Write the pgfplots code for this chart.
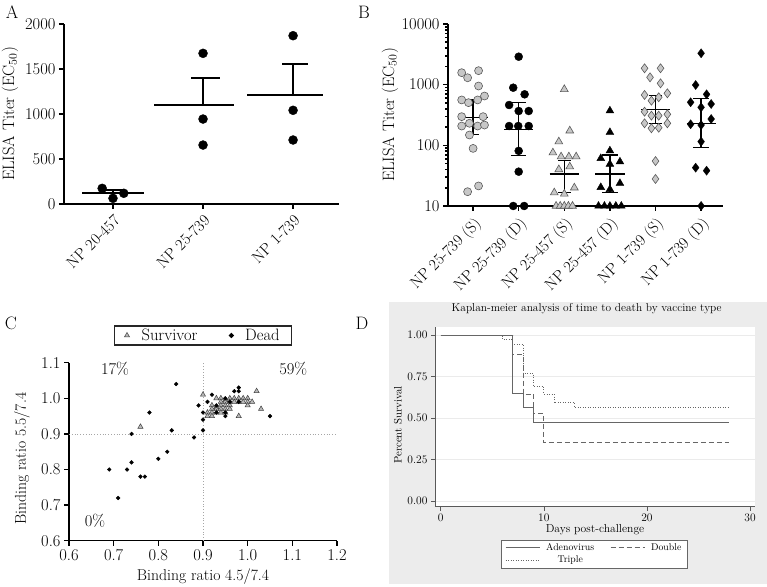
\documentclass[border=0pt]{standalone}
\usepackage{pgfplots}
\pgfplotsset{compat=1.18}
\definecolor{ltgray}{gray}{0.78}
\definecolor{mkedge}{gray}{0.35}
\definecolor{kmline}{gray}{0.4}
\definecolor{panelbg}{gray}{0.925}

\pgfplotsset{
  prism/.style={
    scale only axis,
    axis x line*=bottom, axis y line*=left,
    axis line style={line width=1.6pt},
    tick style={black, line width=1.6pt},
    tick align=outside,
    major tick length=5pt, minor tick length=3pt,
    tick label style={font=\fontsize{16.5}{18}\selectfont},
    label style={font=\fontsize{16.5}{18}\selectfont},
    /pgf/number format/assume math mode=true,
    /pgf/number format/1000 sep={},
    clip=false,
    unbounded coords=jump,
  },
  catlabels/.style={
    xticklabel style={rotate=45, anchor=north east, font=\fontsize{16}{18}\selectfont},
  },
}

\begin{document}
\begin{tikzpicture}
\path[use as bounding box] (0pt,0pt) rectangle (767pt,586pt);
\fill[panelbg] (389pt,2pt) rectangle (767pt,284pt);

\node[font=\fontsize{18}{20}\selectfont] at (12pt,574pt) {A};
\node[font=\fontsize{18}{20}\selectfont] at (364pt,574pt) {B};
\node[font=\fontsize{18}{20}\selectfont] at (11pt,263pt) {C};
\node[font=\fontsize{18}{20}\selectfont] at (362pt,263pt) {D};

% ---------- A ----------
\begin{axis}[prism, catlabels,
    at={(64pt,382pt)}, anchor=south west, width=275pt, height=180pt,
    xmin=-0.544, xmax=2.51, ymin=0, ymax=2000,
    xtick={0,1,2}, xticklabels={NP 20-457, NP 25-739, NP 1-739},
    ytick={0,500,1000,1500,2000},
    ylabel={ELISA Titer (EC$_{50}$)},
    ylabel style={at={(axis description cs:-0.196,0.5)}, anchor=center},
  ]
  \addplot[only marks, mark=*, mark size=4.5pt, black] coordinates {
    (-0.12,174) (0,63) (0.12,119)
    (1,1674) (1,944) (1,655)
    (2,1870) (2,1041) (2,711)
  };
  \addplot[black, line width=2pt] coordinates {
    (-0.34,126) (0.34,126) (0,nan) (0,126) (0,160) (0,nan) (-0.12,160) (0.12,160) (0,nan)
    (0.46,1096) (1.34,1096) (0,nan) (1,1096) (1,1403) (0,nan) (0.87,1403) (1.19,1403) (0,nan)
    (1.49,1211) (2.33,1211) (0,nan) (2,1211) (2,1552) (0,nan) (1.88,1552) (2.17,1552)
  };
\end{axis}

% ---------- B ----------
\begin{axis}[prism, catlabels,
    at={(448pt,380pt)}, anchor=south west, width=275pt, height=182pt,
    ymode=log, ymin=10, ymax=10000, log ticks with fixed point,
    xmin=-0.55, xmax=5.48,
    xtick={0,1,2,3,4,5},
    xticklabels={NP 25-739 (S), NP 25-739 (D), NP 25-457 (S), NP 25-457 (D), NP 1-739 (S), NP 1-739 (D)},
    ytick={10,100,1000,10000},
    ylabel={ELISA Titer (EC$_{50}$)},
    ylabel style={at={(axis description cs:-0.211,0.5)}, anchor=center},
  ]
  % NP 25-739 (S)
  \addplot[only marks, mark=*, mark size=4pt, mark options={fill=ltgray, draw=mkedge, line width=0.6pt}] coordinates {
    (-0.25,1575) (-0.12,1300) (0.12,1700) (0.12,950) (0.25,650) (-0.25,560)
    (-0.1,505) (0.1,560) (-0.25,297) (0.22,297) (-0.25,208) (-0.08,231)
    (0.1,208) (0.25,216) (-0.08,148) (0,89) (-0.12,17.2) (0.12,21.4)
  };
  % NP 25-739 (D)
  \addplot[only marks, mark=*, mark size=4pt, black] coordinates {
    (1,2890) (0.88,891) (1.13,693) (0.79,462) (1,368) (1.22,368) (0.79,208)
    (0.99,208) (1.22,208) (1,81) (1,36.8) (0.88,10) (1.12,10)
  };
  % NP 25-457 (S)
  \addplot[only marks, mark=triangle*, mark size=4.5pt, mark options={fill=ltgray, draw=mkedge, line width=0.6pt}] coordinates {
    (2,838) (2.12,174) (1.88,115) (1.75,75.6) (1.93,65) (2.1,65) (2.26,65)
    (1.88,40) (2.12,44.5) (1.78,16.6) (2,15.8) (2.22,20)
    (1.82,10) (1.91,10) (2,10) (2.09,10) (2.18,10)
  };
  % NP 25-457 (D)
  \addplot[only marks, mark=triangle*, mark size=4.5pt, black] coordinates {
    (3,372) (3,164) (3,81.6) (2.8,61) (3,49) (3.22,53.7) (3.22,23.7) (2.8,20.3)
    (3,18.8) (2.75,10) (2.88,10) (3,10) (3.13,10) (3.25,10)
  };
  % NP 1-739 (S)
  \addplot[only marks, mark=diamond*, mark size=4.5pt, mark options={fill=ltgray, draw=mkedge, line width=0.6pt}] coordinates {
    (3.76,1862) (4.11,1862) (3.88,1321) (4.11,1051) (3.76,676) (4.26,721)
    (3.91,544) (4.07,620) (3.76,358) (3.91,308) (4.07,308) (4.26,325)
    (3.76,231) (3.91,191) (4.07,195) (4.26,231) (4,55) (4,27.9)
  };
  % NP 1-739 (D)
  \addplot[only marks, mark=diamond*, mark size=4.5pt, black] coordinates {
    (5,3290) (4.88,986) (5.12,693) (4.77,512) (5,423) (5.22,480) (5.22,272)
    (4.77,222) (5,216) (5,115) (4.88,42.8) (5.12,38.2) (5,10)
  };
  % mean and SD
  \addplot[black, line width=1.3pt] coordinates {
    (-0.32,290) (0.32,290) (0,nan) (0,152) (0,560) (0,nan) (-0.14,152) (0.14,152) (0,nan) (-0.14,560) (0.14,560) (0,nan)
    (0.68,184) (1.32,184) (0,nan) (1,67.5) (1,505) (0,nan) (0.83,67.5) (1.17,67.5) (0,nan) (0.83,505) (1.17,505) (0,nan)
    (1.68,33.6) (2.32,33.6) (0,nan) (2,16.6) (2,55.8) (0,nan) (1.86,16.6) (2.14,16.6) (0,nan) (1.86,55.8) (2.14,55.8) (0,nan)
    (2.68,33.6) (3.32,33.6) (0,nan) (3,16.6) (3,69) (0,nan) (2.83,16.6) (3.17,16.6) (0,nan) (2.83,69) (3.17,69) (0,nan)
    (3.68,393) (4.32,393) (0,nan) (4,228) (4,665) (0,nan) (3.86,228) (4.14,228) (0,nan) (3.86,665) (4.14,665) (0,nan)
    (4.68,231) (5.32,231) (0,nan) (5,92.7) (5,596) (0,nan) (4.83,92.7) (5.17,92.7) (0,nan) (4.83,596) (5.17,596)
  };
\end{axis}

% ---------- C ----------
\begin{axis}[prism,
    at={(69pt,45.3pt)}, anchor=south west, width=268pt, height=178pt,
    axis line style={line width=1.3pt}, tick style={line width=1.3pt},
    xmin=0.6, xmax=1.2, ymin=0.6, ymax=1.1,
    xtick={0.6,0.7,0.8,0.9,1.0,1.1,1.2},
    ytick={0.6,0.7,0.8,0.9,1.0,1.1},
    xticklabel style={/pgf/number format/.cd, fixed, fixed zerofill, precision=1},
    yticklabel style={/pgf/number format/.cd, fixed, fixed zerofill, precision=1},
    label style={font=\fontsize{15.7}{18}\selectfont},
    xlabel={Binding ratio 4.5/7.4},
    ylabel={Binding ratio 5.5/7.4},
    xlabel style={at={(axis description cs:0.5,-0.202)}, anchor=center},
    ylabel style={at={(axis description cs:-0.176,0.46)}, anchor=center},
    legend columns=2,
    legend style={at={(axis description cs:0.5,1.153)}, anchor=center,
      draw=black!85, line width=1.2pt, font=\fontsize{16.5}{19}\selectfont,
      /tikz/every odd column/.append style={column sep=10pt},
      /tikz/every even column/.append style={column sep=30pt},
      inner xsep=10pt, inner ysep=1pt},
  ]
  \addplot[forget plot, gray!70, dotted, line width=0.8pt] coordinates {(0.9,0.6) (0.9,1.1)};
  \addplot[forget plot, gray!70, dotted, line width=0.8pt] coordinates {(0.6,0.9) (1.2,0.9)};
  \addplot[only marks, mark=triangle*, mark size=3pt, mark options={fill=gray!55, draw=black!75, line width=0.5pt}] coordinates {
    (0.76,0.92) (0.90,1.01) (0.98,0.95) (1.02,1.02) (1.03,0.97)
    (0.93,1.00) (0.94,1.00) (0.95,0.995) (0.96,1.00) (0.97,1.00) (0.98,1.00) (0.99,1.00) (1.00,1.00)
    (0.94,0.99) (0.95,0.99) (0.96,0.99) (0.97,0.99) (0.98,0.99) (0.99,0.99) (1.00,0.99) (1.01,0.99)
    (0.92,0.98) (0.93,0.975) (0.94,0.98) (0.95,0.98) (0.96,0.98) (1.00,0.98)
    (0.92,0.97) (0.93,0.97) (0.94,0.97) (0.95,0.97) (0.96,0.97)
    (0.91,0.96) (0.92,0.96) (0.93,0.96) (0.94,0.96) (0.95,0.96)
    (0.91,0.95) (0.92,0.95)
  };
  \addplot[only marks, mark=*, mark size=1.9pt, black] coordinates {
    (0.69,0.80) (0.71,0.72) (0.73,0.80) (0.74,0.90) (0.74,0.82) (0.76,0.78) (0.77,0.78)
    (0.78,0.96) (0.80,0.83) (0.82,0.85) (0.83,0.91) (0.84,1.04) (0.88,0.89) (0.89,0.98)
    (0.90,0.96) (0.90,0.94) (0.90,0.91) (0.91,0.99) (0.92,1.01) (0.93,0.98) (0.95,1.00)
    (0.95,0.95) (0.95,0.96) (0.96,0.99) (0.97,1.02) (0.98,1.03) (0.98,1.02) (0.93,0.96)
    (0.98,0.99) (1.05,0.95)
  };
  \legend{Survivor, Dead}
  \node[font=\fontsize{16.5}{18}\selectfont] at (axis cs:0.703,1.084) {17\%};
  \node[font=\fontsize{16.5}{18}\selectfont] at (axis cs:1.102,1.084) {59\%};
  \node[font=\fontsize{16.5}{18}\selectfont] at (axis cs:0.658,0.656) {0\%};
\end{axis}

% ---------- D ----------
\begin{axis}[
    scale only axis,
    at={(435pt,79.3pt)}, anchor=south west, width=320pt, height=180pt,
    axis x line*=bottom, axis y line*=left,
    axis line style={black!65, line width=0.6pt},
    tick style={black!65, line width=0.6pt},
    tick align=outside, major tick length=4pt,
    axis background/.style={fill=white},
    xmin=-0.55, xmax=30.48, ymin=-0.034, ymax=1.05,
    xtick={0,10,20,30}, ytick={0,0.25,0.5,0.75,1},
    yticklabel style={/pgf/number format/.cd, fixed, fixed zerofill, precision=2},
    /pgf/number format/assume math mode=true,
    tick label style={font=\fontsize{11.5}{13}\selectfont},
    ymajorgrids, grid style={black!8, line width=0.6pt},
    title={Kaplan-meier analysis of time to death by vaccine type},
    title style={at={(axis description cs:0.474,1.065)}, anchor=center, font=\fontsize{11.4}{13}\selectfont},
    xlabel={Days post-challenge},
    ylabel={Percent Survival},
    xlabel style={at={(axis description cs:0.5,-0.13)}, anchor=center, font=\fontsize{11.6}{13}\selectfont},
    ylabel style={at={(axis description cs:-0.116,0.454)}, anchor=center, font=\fontsize{10.8}{12}\selectfont},
    legend columns=2,
    legend image code/.code={\draw[#1] (0pt,0pt) -- (34pt,0pt);},
    legend style={at={(axis description cs:0.498,-0.263)}, anchor=center,
      draw=black!60, fill=white, font=\fontsize{9.8}{12}\selectfont,
      inner ysep=1.5pt, inner xsep=4pt,
      /tikz/every odd column/.append style={column sep=4pt},
      /tikz/every even column/.append style={column sep=14pt}},
  ]
  \addplot[const plot, kmline, line width=0.9pt] coordinates {
    (0,1) (7,0.649) (8,0.564) (9,0.474) (28,0.474)
  };
  \addplot[const plot, kmline, line width=0.9pt, dash pattern=on 5pt off 3pt] coordinates {
    (0,1) (7,0.884) (8,0.645) (9,0.528) (10,0.351) (28,0.351)
  };
  \addplot[const plot, kmline, line width=0.9pt, dash pattern=on 1pt off 1.5pt] coordinates {
    (0,1) (6,0.974) (7,0.946) (8,0.769) (9,0.689) (10,0.645) (11,0.592) (13,0.562) (28,0.562)
  };
  \legend{Adenovirus, Double, Triple}
\end{axis}
\end{tikzpicture}
\end{document}
